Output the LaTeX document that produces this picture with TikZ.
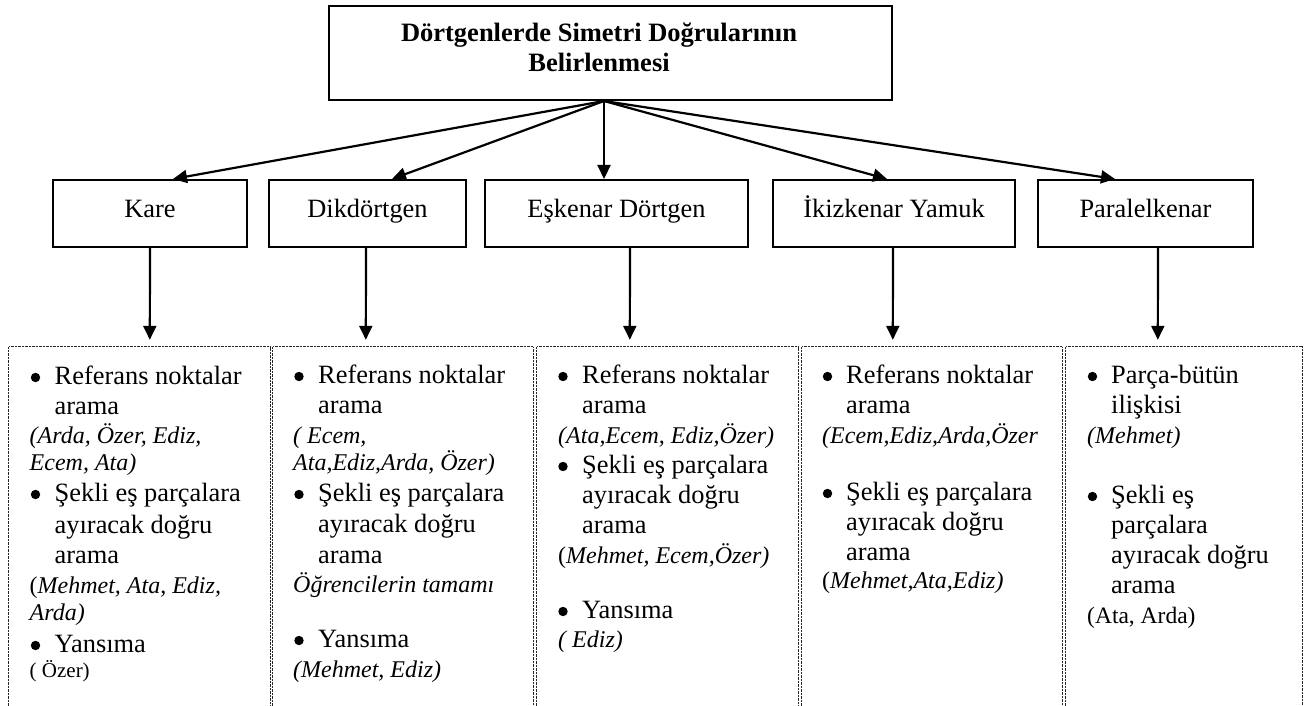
\documentclass[tikz,border=0pt]{standalone}
\usepackage{fontspec}
\setmainfont{Liberation Serif}
\usetikzlibrary{arrows.meta}
\begin{document}
\begin{tikzpicture}[x=1pt,y=-1pt,
  box/.style={draw, line width=2pt, inner sep=0pt, minimum height=67pt,
    font=\fontsize{26.4}{30}\selectfont, text height=16pt, text depth=8pt},
  frame/.style={draw, line width=2pt, inner sep=0pt},
  title/.style={font=\fontsize{26.5}{30}\selectfont\bfseries, inner sep=0pt, anchor=base},
  conn/.style={line width=2.2pt, -{Triangle[length=14pt,width=13pt]}},
  panel/.style={inner sep=0pt, minimum height=359pt},
  panelline/.style={line width=1pt, black!85, dash pattern=on 0.9pt off 0.5pt},
  item/.style={font=\fontsize{26.4}{30}\selectfont, inner sep=0pt, anchor=base west},
  who/.style={font=\fontsize{24}{27}\selectfont\itshape, inner sep=0pt, anchor=base west},
  whoup/.style={font=\fontsize{24}{27}\selectfont, inner sep=0pt, anchor=base west},
  dot/.style={circle, fill, inner sep=0pt, minimum size=9.4pt},
]
\useasboundingbox (0,0) rectangle (1312,706);

% root box and its two-line title
\node[frame, minimum width=563pt, minimum height=94pt] (root) at (610.5,53) {};
\node[title] (t1) at (599,41.7) {Dörtgenlerde Simetri Doğrularının};
\node[title] (t2) at (599,71.7) {Belirlenmesi};

% quadrilateral types
\node[box, minimum width=194pt] (kare) at (150,213.5)   {Kare};
\node[box, minimum width=197pt] (dik)  at (367.5,213.5) {Dikdörtgen};
\node[box, minimum width=263pt] (esk)  at (616.5,213.5) {Eşkenar Dörtgen};
\node[box, minimum width=242pt] (ikiz) at (894,213.5)   {İkizkenar Yamuk};
\node[box, minimum width=215pt] (para) at (1145.5,213.5) {Paralelkenar};

% arrows from the root
\draw[conn] ([xshift=-6.5pt]root.south) -- ([xshift=23pt]kare.north);
\draw[conn] ([xshift=-6.5pt]root.south) -- ([xshift=24.5pt]dik.north);
\draw[conn] ([xshift=-6.5pt]root.south) -- ([xshift=-12.5pt]esk.north);
\draw[conn] ([xshift=-6.5pt]root.south) -- ([xshift=-7pt]ikiz.north);
\draw[conn] ([xshift=-6.5pt]root.south) -- ([xshift=-30.5pt]para.north);

% strategy panels (open at the bottom)
\node[panel, minimum width=261pt] (kp) at (139.5,526.5) {};
\node[panel, minimum width=260pt] (dp) at (403,526.5) {};
\node[panel, minimum width=261pt] (ep) at (667.5,526.5) {};
\node[panel, minimum width=260pt] (ip) at (932,526.5) {};
\node[panel, minimum width=236pt] (pp) at (1184,526.5) {};
\foreach \p in {kp,dp,ep,ip,pp}
  \draw[panelline] (\p.south west) |- (\p.north east) -- (\p.south east);

% arrows into the panels
\draw[conn] (kare.south) -- ([xshift=141pt,yshift=7pt]kp.north west);
\draw[conn] ([xshift=-1.5pt]dik.south) -- ([xshift=93pt,yshift=7pt]dp.north west);
\draw[conn] ([xshift=13.5pt]esk.south) -- ([xshift=93pt,yshift=7pt]ep.north west);
\draw[conn] ([xshift=-1pt]ikiz.south) -- ([xshift=91pt,yshift=7pt]ip.north west);
\draw[conn] ([xshift=12.5pt]para.south) -- ([xshift=92pt,yshift=7pt]pp.north west);

% Kare
\node[dot] (k1b) at (35.5,377.5) {};
\node[item] (k1) at (54.5,384) {Referans noktalar};
\node[item] (k2) at (54.5,414) {arama};
\node[who] (k3) at (29.5,443) {(Arda, Özer, Ediz,};
\node[who] (k4) at (29.5,470) {Ecem, Ata)};
\node[dot] (k5b) at (35.5,494.5) {};
\node[item] (k5) at (54.5,501) {Şekli eş parçalara};
\node[item] (k6) at (54.5,533) {ayıracak doğru};
\node[item] (k7) at (54.5,563) {arama};
\node[whoup] (k8) at (29.5,593) {(\textit{Mehmet, Ata, Ediz,}};
\node[who] (k9) at (29.5,620) {Arda)};
\node[dot] (k10b) at (35.5,645.5) {};
\node[item] (k10) at (54.5,652) {Yansıma};
\node[whoup, font=\fontsize{21}{24}\selectfont] (k11) at (29.5,677) {( Özer)};

% Dikdörtgen
\node[dot] (d1b) at (299,376.5) {};
\node[item] (d1) at (318,383) {Referans noktalar};
\node[item] (d2) at (318,413) {arama};
\node[who] (d3) at (293,443) {( Ecem,};
\node[who] (d4) at (293,470) {Ata,Ediz,Arda, Özer)};
\node[dot] (d5b) at (299,494.5) {};
\node[item] (d5) at (318,501) {Şekli eş parçalara};
\node[item] (d6) at (318,532) {ayıracak doğru};
\node[item] (d7) at (318,563) {arama};
\node[who] (d8) at (293,592) {Öğrencilerin tamamı};
\node[dot] (d9b) at (299,640.5) {};
\node[item] (d9) at (318,647) {Yansıma};
\node[who] (d10) at (293,677) {(Mehmet, Ediz)};

% Eşkenar Dörtgen
\node[dot] (e1b) at (563,376.5) {};
\node[item] (e1) at (582,383) {Referans noktalar};
\node[item] (e2) at (582,413) {arama};
\node[who] (e3) at (558,443) {(Ata,Ecem, Ediz,Özer)};
\node[dot] (e4b) at (563,466.5) {};
\node[item] (e4) at (582,473) {Şekli eş parçalara};
\node[item] (e5) at (582,503) {ayıracak doğru};
\node[item] (e6) at (582,533) {arama};
\node[whoup] (e7) at (558,563) {(\textit{Mehmet, Ecem,Özer)}};
\node[dot] (e8b) at (563,611.5) {};
\node[item] (e8) at (582,618) {Yansıma};
\node[who] (e9) at (558,647) {( Ediz)};

% İkizkenar Yamuk
\node[dot] (i1b) at (827.5,376.5) {};
\node[item] (i1) at (846,383) {Referans noktalar};
\node[item] (i2) at (846,413) {arama};
\node[who] (i3) at (822,443) {(Ecem,Ediz,Arda,Özer};
\node[dot] (i4b) at (827.5,493.5) {};
\node[item] (i4) at (846,500) {Şekli eş parçalara};
\node[item] (i5) at (846,530) {ayıracak doğru};
\node[item] (i6) at (846,560) {arama};
\node[whoup] (i7) at (822,588) {(\textit{Mehmet,Ata,Ediz)}};

% Paralelkenar
\node[dot] (p1b) at (1092.5,376.5) {};
\node[item] (p1) at (1111,383) {Parça-bütün};
\node[item] (p2) at (1111,413) {ilişkisi};
\node[who] (p3) at (1087,443) {(Mehmet)};
\node[dot] (p4b) at (1092.5,496.5) {};
\node[item] (p4) at (1111,503) {Şekli eş};
\node[item] (p5) at (1111,533) {parçalara};
\node[item] (p6) at (1111,563) {ayıracak doğru};
\node[item] (p7) at (1111,593) {arama};
\node[whoup, font=\fontsize{23.5}{27}\selectfont] (p8) at (1087,623) {(Ata, Arda)};
\end{tikzpicture}
\end{document}
